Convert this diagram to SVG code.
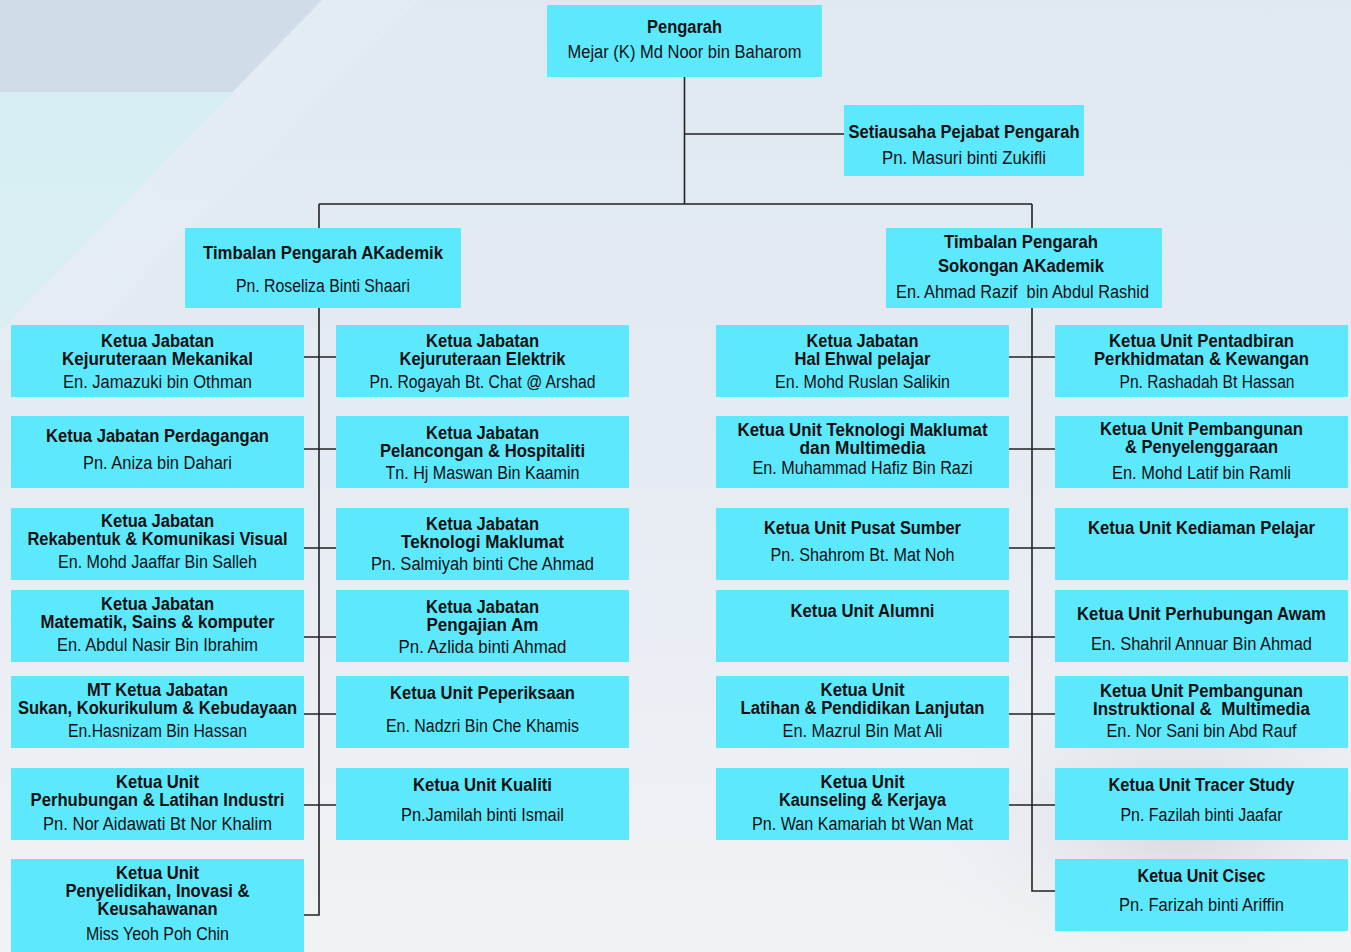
<svg xmlns="http://www.w3.org/2000/svg" width="1351" height="952" viewBox="0 0 1351 952">
<defs>
<linearGradient id="bg" x1="0" y1="0" x2="0" y2="1">
<stop offset="0" stop-color="#dfe9f2"/>
<stop offset="0.45" stop-color="#e5ebf3"/>
<stop offset="1" stop-color="#f1f2f5"/>
</linearGradient>
<linearGradient id="cy" x1="0" y1="0" x2="0" y2="1">
<stop offset="0" stop-color="#d5eef3"/>
<stop offset="1" stop-color="#dbeff3"/>
</linearGradient>
<linearGradient id="band" x1="0" y1="0" x2="1" y2="1">
<stop offset="0" stop-color="#e8f1f8" stop-opacity="0.9"/>
<stop offset="1" stop-color="#e8f1f8" stop-opacity="0"/>
</linearGradient>
<radialGradient id="br" cx="0.5" cy="0.5" r="0.5">
<stop offset="0" stop-color="#cfd3d9" stop-opacity="0.8"/>
<stop offset="1" stop-color="#e8ebef" stop-opacity="0"/>
</radialGradient>
<style>
.box{fill:#5ce9fe}
text{font-family:"Liberation Sans",Arial,sans-serif;font-size:18px;fill:#111;text-anchor:middle}
.t{font-weight:bold}
.n{font-weight:normal}
.c{fill:none;stroke:#222;stroke-width:1.6}
</style>
</defs>
<rect width="1351" height="952" fill="url(#bg)"/>
<polygon points="0,0 322,0 233,92 0,92" fill="#d0dce7"/>
<polygon points="0,92 233,92 0,332" fill="url(#cy)"/>
<polygon points="322,0 420,0 60,360 0,360 0,332" fill="url(#band)" opacity="0.7"/>
<ellipse cx="1180" cy="820" rx="260" ry="160" fill="url(#br)"/>

<g id="connectors">
<path class="c" d="M684.5 77 V204 M684.5 134 H844 M319 204 H1032 M319 204 V228 M1032 204 V228"/>
<path class="c" d="M319 308 V915 H304 M304 357 H336 M304 449 H336 M304 548 H336 M304 637 H336 M304 714 H336 M304 805 H336"/>
<path class="c" d="M1032 308 V891 H1055 M1009 357 H1055 M1009 449 H1055 M1009 548 H1055 M1009 637 H1055 M1009 714 H1055 M1009 805 H1055"/>
</g>

<g id="pengarah"><rect class="box" x="547" y="5" width="275" height="72"/>
<text class="t" x="684.5" y="33" textLength="75" lengthAdjust="spacingAndGlyphs">Pengarah</text>
<text class="n" x="684.5" y="58" textLength="234" lengthAdjust="spacingAndGlyphs">Mejar (K) Md Noor bin Baharom</text></g>

<g id="setiausaha"><rect class="box" x="844" y="105" width="240" height="71"/>
<text class="t" x="964" y="138" textLength="231" lengthAdjust="spacingAndGlyphs">Setiausaha Pejabat Pengarah</text>
<text class="n" x="964" y="164" textLength="164" lengthAdjust="spacingAndGlyphs">Pn. Masuri binti Zukifli</text></g>

<g id="tp-akademik"><rect class="box" x="185" y="228" width="276" height="80"/>
<text class="t" x="323" y="259" textLength="240" lengthAdjust="spacingAndGlyphs">Timbalan Pengarah AKademik</text>
<text class="n" x="323" y="292" textLength="174" lengthAdjust="spacingAndGlyphs">Pn. Roseliza Binti Shaari</text></g>

<g id="tp-sokongan"><rect class="box" x="886" y="228" width="276" height="80"/>
<text class="t" x="1021" y="248" textLength="154" lengthAdjust="spacingAndGlyphs">Timbalan Pengarah</text>
<text class="t" x="1021" y="272" textLength="166" lengthAdjust="spacingAndGlyphs">Sokongan AKademik</text>
<text class="n" x="1022.5" y="298" textLength="253" lengthAdjust="spacingAndGlyphs">En. Ahmad Razif&#160; bin Abdul Rashid</text></g>

<!-- Row 1 -->
<g id="kj-mekanikal"><rect class="box" x="11" y="325" width="293" height="72"/>
<text class="t" x="157.5" y="347" textLength="113" lengthAdjust="spacingAndGlyphs">Ketua Jabatan</text>
<text class="t" x="157.5" y="365" textLength="191" lengthAdjust="spacingAndGlyphs">Kejuruteraan Mekanikal</text>
<text class="n" x="157.5" y="388" textLength="189" lengthAdjust="spacingAndGlyphs">En. Jamazuki bin Othman</text></g>

<g id="kj-elektrik"><rect class="box" x="336" y="325" width="293" height="72"/>
<text class="t" x="482.5" y="347" textLength="113" lengthAdjust="spacingAndGlyphs">Ketua Jabatan</text>
<text class="t" x="482.5" y="365" textLength="166" lengthAdjust="spacingAndGlyphs">Kejuruteraan Elektrik</text>
<text class="n" x="482.5" y="388" textLength="226" lengthAdjust="spacingAndGlyphs">Pn. Rogayah Bt. Chat @ Arshad</text></g>

<g id="kj-hep"><rect class="box" x="716" y="325" width="293" height="72"/>
<text class="t" x="862.5" y="347" textLength="112" lengthAdjust="spacingAndGlyphs">Ketua Jabatan</text>
<text class="t" x="862.5" y="365" textLength="136" lengthAdjust="spacingAndGlyphs">Hal Ehwal pelajar</text>
<text class="n" x="862.5" y="388" textLength="175" lengthAdjust="spacingAndGlyphs">En. Mohd Ruslan Salikin</text></g>

<g id="ku-pentadbiran"><rect class="box" x="1055" y="325" width="293" height="72"/>
<text class="t" x="1201.5" y="347" textLength="185" lengthAdjust="spacingAndGlyphs">Ketua Unit Pentadbiran</text>
<text class="t" x="1201.5" y="365" textLength="215" lengthAdjust="spacingAndGlyphs">Perkhidmatan &amp; Kewangan</text>
<text class="n" x="1207" y="388" textLength="175" lengthAdjust="spacingAndGlyphs">Pn. Rashadah Bt Hassan</text></g>

<!-- Row 2 -->
<g id="kj-perdagangan"><rect class="box" x="11" y="416" width="293" height="72"/>
<text class="t" x="157.5" y="442" textLength="223" lengthAdjust="spacingAndGlyphs">Ketua Jabatan Perdagangan</text>
<text class="n" x="157.5" y="469" textLength="149" lengthAdjust="spacingAndGlyphs">Pn. Aniza bin Dahari</text></g>

<g id="kj-pelancongan"><rect class="box" x="336" y="416" width="293" height="72"/>
<text class="t" x="482.5" y="439" textLength="113" lengthAdjust="spacingAndGlyphs">Ketua Jabatan</text>
<text class="t" x="482.5" y="457" textLength="205" lengthAdjust="spacingAndGlyphs">Pelancongan &amp; Hospitaliti</text>
<text class="n" x="482.5" y="479" textLength="194" lengthAdjust="spacingAndGlyphs">Tn. Hj Maswan Bin Kaamin</text></g>

<g id="ku-tmm"><rect class="box" x="716" y="416" width="293" height="72"/>
<text class="t" x="862.5" y="436" textLength="250" lengthAdjust="spacingAndGlyphs">Ketua Unit Teknologi Maklumat</text>
<text class="t" x="862.5" y="454" textLength="126" lengthAdjust="spacingAndGlyphs">dan Multimedia</text>
<text class="n" x="862.5" y="474" textLength="220" lengthAdjust="spacingAndGlyphs">En. Muhammad Hafiz Bin Razi</text></g>

<g id="ku-pembangunan"><rect class="box" x="1055" y="416" width="293" height="72"/>
<text class="t" x="1201.5" y="435" textLength="203" lengthAdjust="spacingAndGlyphs">Ketua Unit Pembangunan</text>
<text class="t" x="1201.5" y="453" textLength="153" lengthAdjust="spacingAndGlyphs">&amp; Penyelenggaraan</text>
<text class="n" x="1201.5" y="479" textLength="179" lengthAdjust="spacingAndGlyphs">En. Mohd Latif bin Ramli</text></g>

<!-- Row 3 -->
<g id="kj-rekabentuk"><rect class="box" x="11" y="508" width="293" height="72"/>
<text class="t" x="157.5" y="527" textLength="113" lengthAdjust="spacingAndGlyphs">Ketua Jabatan</text>
<text class="t" x="157.5" y="545" textLength="260" lengthAdjust="spacingAndGlyphs">Rekabentuk &amp; Komunikasi Visual</text>
<text class="n" x="157.5" y="568" textLength="199" lengthAdjust="spacingAndGlyphs">En. Mohd Jaaffar Bin Salleh</text></g>

<g id="kj-tm"><rect class="box" x="336" y="508" width="293" height="72"/>
<text class="t" x="482.5" y="530" textLength="113" lengthAdjust="spacingAndGlyphs">Ketua Jabatan</text>
<text class="t" x="482.5" y="548" textLength="163" lengthAdjust="spacingAndGlyphs">Teknologi Maklumat</text>
<text class="n" x="482.5" y="570" textLength="223" lengthAdjust="spacingAndGlyphs">Pn. Salmiyah binti Che Ahmad</text></g>

<g id="ku-pusat-sumber"><rect class="box" x="716" y="508" width="293" height="72"/>
<text class="t" x="862.5" y="534" textLength="197" lengthAdjust="spacingAndGlyphs">Ketua Unit Pusat Sumber</text>
<text class="n" x="862.5" y="561" textLength="184" lengthAdjust="spacingAndGlyphs">Pn. Shahrom Bt. Mat Noh</text></g>

<g id="ku-kediaman"><rect class="box" x="1055" y="508" width="293" height="72"/>
<text class="t" x="1201.5" y="534" textLength="227" lengthAdjust="spacingAndGlyphs">Ketua Unit Kediaman Pelajar</text></g>

<!-- Row 4 -->
<g id="kj-matematik"><rect class="box" x="11" y="590" width="293" height="72"/>
<text class="t" x="157.5" y="610" textLength="113" lengthAdjust="spacingAndGlyphs">Ketua Jabatan</text>
<text class="t" x="157.5" y="628" textLength="234" lengthAdjust="spacingAndGlyphs">Matematik, Sains &amp; komputer</text>
<text class="n" x="157.5" y="651" textLength="201" lengthAdjust="spacingAndGlyphs">En. Abdul Nasir Bin Ibrahim</text></g>

<g id="kj-pengajian-am"><rect class="box" x="336" y="590" width="293" height="72"/>
<text class="t" x="482.5" y="613" textLength="113" lengthAdjust="spacingAndGlyphs">Ketua Jabatan</text>
<text class="t" x="482.5" y="631" textLength="112" lengthAdjust="spacingAndGlyphs">Pengajian Am</text>
<text class="n" x="482.5" y="653" textLength="168" lengthAdjust="spacingAndGlyphs">Pn. Azlida binti Ahmad</text></g>

<g id="ku-alumni"><rect class="box" x="716" y="590" width="293" height="72"/>
<text class="t" x="862.5" y="617" textLength="144" lengthAdjust="spacingAndGlyphs">Ketua Unit Alumni</text></g>

<g id="ku-perhubungan-awam"><rect class="box" x="1055" y="590" width="293" height="72"/>
<text class="t" x="1201.5" y="620" textLength="249" lengthAdjust="spacingAndGlyphs">Ketua Unit Perhubungan Awam</text>
<text class="n" x="1201.5" y="650" textLength="221" lengthAdjust="spacingAndGlyphs">En. Shahril Annuar Bin Ahmad</text></g>

<!-- Row 5 -->
<g id="kj-sukan"><rect class="box" x="11" y="676" width="293" height="72"/>
<text class="t" x="157.5" y="696" textLength="141" lengthAdjust="spacingAndGlyphs">MT Ketua Jabatan</text>
<text class="t" x="157.5" y="714" textLength="279" lengthAdjust="spacingAndGlyphs">Sukan, Kokurikulum &amp; Kebudayaan</text>
<text class="n" x="157.5" y="737" textLength="179" lengthAdjust="spacingAndGlyphs">En.Hasnizam Bin Hassan</text></g>

<g id="ku-peperiksaan"><rect class="box" x="336" y="676" width="293" height="72"/>
<text class="t" x="482.5" y="699" textLength="185" lengthAdjust="spacingAndGlyphs">Ketua Unit Peperiksaan</text>
<text class="n" x="482.5" y="732" textLength="193" lengthAdjust="spacingAndGlyphs">En. Nadzri Bin Che Khamis</text></g>

<g id="ku-latihan"><rect class="box" x="716" y="676" width="293" height="72"/>
<text class="t" x="862.5" y="696" textLength="84" lengthAdjust="spacingAndGlyphs">Ketua Unit</text>
<text class="t" x="862.5" y="714" textLength="244" lengthAdjust="spacingAndGlyphs">Latihan &amp; Pendidikan Lanjutan</text>
<text class="n" x="862.5" y="737" textLength="160" lengthAdjust="spacingAndGlyphs">En. Mazrul Bin Mat Ali</text></g>

<g id="ku-instruktional"><rect class="box" x="1055" y="676" width="293" height="72"/>
<text class="t" x="1201.5" y="697" textLength="203" lengthAdjust="spacingAndGlyphs">Ketua Unit Pembangunan</text>
<text class="t" x="1201.5" y="715" textLength="217" lengthAdjust="spacingAndGlyphs">Instruktional &amp;&#160; Multimedia</text>
<text class="n" x="1201.5" y="737" textLength="190" lengthAdjust="spacingAndGlyphs">En. Nor Sani bin Abd Rauf</text></g>

<!-- Row 6 -->
<g id="ku-industri"><rect class="box" x="11" y="768" width="293" height="72"/>
<text class="t" x="157.5" y="788" textLength="83" lengthAdjust="spacingAndGlyphs">Ketua Unit</text>
<text class="t" x="157.5" y="806" textLength="254" lengthAdjust="spacingAndGlyphs">Perhubungan &amp; Latihan Industri</text>
<text class="n" x="157.5" y="830" textLength="229" lengthAdjust="spacingAndGlyphs">Pn. Nor Aidawati Bt Nor Khalim</text></g>

<g id="ku-kualiti"><rect class="box" x="336" y="768" width="293" height="72"/>
<text class="t" x="482.5" y="791" textLength="139" lengthAdjust="spacingAndGlyphs">Ketua Unit Kualiti</text>
<text class="n" x="482.5" y="821" textLength="163" lengthAdjust="spacingAndGlyphs">Pn.Jamilah binti Ismail</text></g>

<g id="ku-kaunseling"><rect class="box" x="716" y="768" width="293" height="72"/>
<text class="t" x="862.5" y="788" textLength="84" lengthAdjust="spacingAndGlyphs">Ketua Unit</text>
<text class="t" x="862.5" y="806" textLength="167" lengthAdjust="spacingAndGlyphs">Kaunseling &amp; Kerjaya</text>
<text class="n" x="862.5" y="830" textLength="221" lengthAdjust="spacingAndGlyphs">Pn. Wan Kamariah bt Wan Mat</text></g>

<g id="ku-tracer"><rect class="box" x="1055" y="768" width="293" height="72"/>
<text class="t" x="1201.5" y="791" textLength="186" lengthAdjust="spacingAndGlyphs">Ketua Unit Tracer Study</text>
<text class="n" x="1201.5" y="821" textLength="162" lengthAdjust="spacingAndGlyphs">Pn. Fazilah binti Jaafar</text></g>

<!-- Row 7 -->
<g id="ku-penyelidikan"><rect class="box" x="11" y="859" width="293" height="100"/>
<text class="t" x="157.5" y="879" textLength="83" lengthAdjust="spacingAndGlyphs">Ketua Unit</text>
<text class="t" x="157.5" y="897" textLength="184" lengthAdjust="spacingAndGlyphs">Penyelidikan, Inovasi &amp;</text>
<text class="t" x="157.5" y="915" textLength="120" lengthAdjust="spacingAndGlyphs">Keusahawanan</text>
<text class="n" x="157.5" y="940" textLength="143" lengthAdjust="spacingAndGlyphs">Miss Yeoh Poh Chin</text></g>

<g id="ku-cisec"><rect class="box" x="1055" y="859" width="293" height="72"/>
<text class="t" x="1201.5" y="882" textLength="128" lengthAdjust="spacingAndGlyphs">Ketua Unit Cisec</text>
<text class="n" x="1201.5" y="911" textLength="165" lengthAdjust="spacingAndGlyphs">Pn. Farizah binti Ariffin</text></g>
</svg>
